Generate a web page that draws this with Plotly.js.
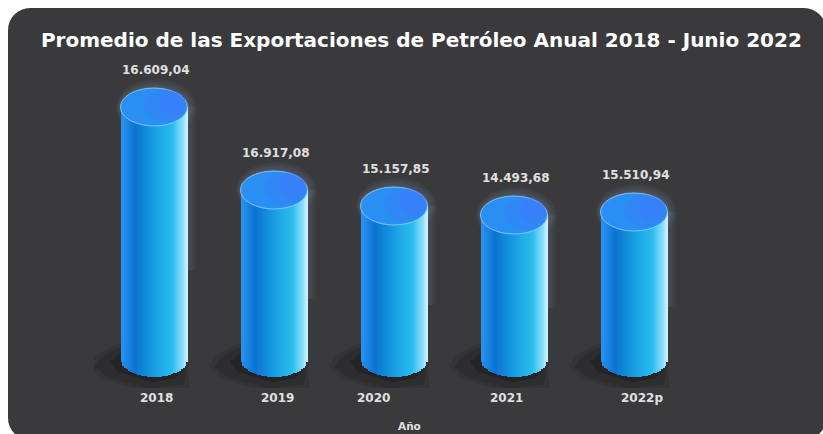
<!DOCTYPE html>
<html>
<head>
<meta charset="utf-8">
<script src="https://cdn.plot.ly/plotly-3.0.1.min.js"></script>
<style>
  html, body { margin: 0; padding: 0; background: #ffffff; }
  #chart { width: 823px; height: 434px; }
</style>
</head>
<body>
<div id="chart"></div>
<script>
// ---- Data ----
const anios = ['2018', '2019', '2020', '2021', '2022p'];
const promedios = [16609.04, 16917.08, 15157.85, 14493.68, 15510.94];   // printed values
const alturasDibujadas = [25100, 16800, 15200, 14300, 14600];           // bar heights as drawn
const tituloTexto = 'Promedio de las Exportaciones de Petróleo Anual 2018 - Junio 2022';
const ejeXTexto = 'Año';

// ---- helpers ----
function formatoES(v) {
  const parts = v.toFixed(2).split('.');
  const ent = parts[0].replace(/\B(?=(\d{3})+(?!\d))/g, '.');
  return ent + ',' + parts[1];
}
function hex2rgb(h) { h = h.replace('#',''); return [parseInt(h.substr(0,2),16), parseInt(h.substr(2,2),16), parseInt(h.substr(4,2),16)]; }
const stops = [[0, '#2b96f2'], [0.22, '#0a72d0'], [0.52, '#18a0e4'], [0.78, '#2cbdee'], [0.92, '#86dcf9'], [1, '#d4f5ff']];
function gradColor(t) {
  for (let i = 0; i < stops.length - 1; i++) {
    if (t >= stops[i][0] && t <= stops[i+1][0]) {
      const f = (t - stops[i][0]) / (stops[i+1][0] - stops[i][0]);
      const c0 = hex2rgb(stops[i][1]), c1 = hex2rgb(stops[i+1][1]);
      const c = c0.map((v, j) => Math.round(v + (c1[j] - v) * f));
      return 'rgb(' + c.join(',') + ')';
    }
  }
  return stops[stops.length-1][1];
}

// ---- geometry (layout) ----
const W = 823, H = 434;
const M = {l: 94, r: 129, t: 58, b: 46};
const plotW = W - M.l - M.r, plotH = H - M.t - M.b;
const xRange = [-0.5, 4.5], yRange = [-3000, 30000];
const uxPerPx = (xRange[1] - xRange[0]) / plotW;
const uyPerPx = (yRange[1] - yRange[0]) / plotH;
const semiA = 33.5 * uxPerPx;     // half width of cylinder
const semiB = 19 * uyPerPx;       // half height of ellipse
const N = 36;
const sw = 2 * semiA / N;
const xs = anios.map((_, i) => i);

const traces = [];
for (let k = 0; k < N; k++) {
  const dx = -semiA + (k + 0.5) * sw;
  const r = Math.min(1, Math.abs(dx) / semiA);
  const baseK = -semiB * Math.sqrt(Math.max(0, 1 - r * r));
  traces.push({
    type: 'bar',
    x: xs,
    y: alturasDibujadas.map(h => h - baseK),
    base: alturasDibujadas.map(() => baseK),
    offset: -semiA + k * sw,
    width: k === N - 1 ? sw : sw * 1.4,
    marker: {color: gradColor((k + 0.5) / N), line: {width: 0}},
    hoverinfo: 'skip',
    showlegend: false
  });
}

// ---- shapes ----
function px2paperX(px) { return (px - M.l) / plotW; }
function px2paperY(py) { return (H - M.b - py) / plotH; }
function roundRectPath(x0, y0, x1, y1, rad) {
  const pts = [];
  const arc = (cx, cy, a0, a1) => { for (let s = 0; s <= 8; s++) { const a = a0 + (a1 - a0) * s / 8; pts.push([cx + rad * Math.cos(a), cy + rad * Math.sin(a)]); } };
  arc(x0 + rad, y0 + rad, Math.PI, 1.5 * Math.PI);
  arc(x1 - rad, y0 + rad, 1.5 * Math.PI, 2 * Math.PI);
  arc(x1 - rad, y1 - rad, 0, 0.5 * Math.PI);
  arc(x0 + rad, y1 - rad, 0.5 * Math.PI, Math.PI);
  return 'M' + pts.map(p => px2paperX(p[0]).toFixed(5) + ',' + px2paperY(p[1]).toFixed(5)).join('L') + 'Z';
}
const shapes = [{
  type: 'path', xref: 'paper', yref: 'paper', layer: 'below',
  path: roundRectPath(8, 8, 826, 440, 22),
  fillcolor: '#3a3a3c', line: {width: 0}
}];
function pathAt(i, pp) {
  return 'M' + pp.map(p => (i + p[0] * uxPerPx).toFixed(5) + ',' + (-p[1] * uyPerPx).toFixed(2)).join('L') + 'Z';
}
// soft shadows toward lower-left (offsets in px around each base centre)
const shadowLayers = [
  [[[-33, -16], [-56, -4], [-66, 8], [-50, 22], [-5, 35], [36, 31], [33, 4]], 'rgba(25,25,27,0.18)'],
  [[[-33, -12], [-52, -1], [-60, 9], [-45, 20], [-3, 31], [30, 26], [33, 3]], 'rgba(22,22,24,0.22)'],
  [[[-33, -6], [-44, 4], [-36, 14], [-2, 24], [22, 20], [33, 2]], 'rgba(18,18,20,0.3)']
];
xs.forEach(i => {
  shadowLayers.forEach(([pp, col]) => {
    shapes.push({type: 'path', xref: 'x', yref: 'y', layer: 'below', path: pathAt(i, pp), fillcolor: col, line: {width: 0}});
  });
  // faint glow behind top and right side
  const h = alturasDibujadas[i];
  for (let s = 1; s <= 4; s++) {
    const g = 2.2 * s;
    shapes.push({
      type: 'circle', xref: 'x', yref: 'y', layer: 'below',
      x0: i - semiA - g * 0.5 * uxPerPx, x1: i + semiA + g * uxPerPx,
      y0: h - semiB - g * uyPerPx, y1: h + semiB + g * uyPerPx,
      fillcolor: 'rgba(150,190,230,0.05)', line: {width: 0}
    });
    shapes.push({
      type: 'rect', xref: 'x', yref: 'y', layer: 'below',
      x0: i + semiA - 2 * uxPerPx, x1: i + semiA + g * uxPerPx,
      y0: h * 0.35, y1: h,
      fillcolor: 'rgba(150,190,230,0.04)', line: {width: 0}
    });
  }
});
// top ellipses
xs.forEach(i => {
  const h = alturasDibujadas[i];
  shapes.push({
    type: 'circle', xref: 'x', yref: 'y', layer: 'above',
    x0: i - semiA, x1: i + semiA, y0: h - semiB, y1: h + semiB,
    fillcolor: '#2a8ff3', line: {color: 'rgba(150,205,255,0.85)', width: 1}
  });
  shapes.push({
    type: 'circle', xref: 'x', yref: 'y', layer: 'above',
    x0: i - semiA * 0.3, x1: i + semiA * 0.97, y0: h - semiB * 0.75, y1: h + semiB * 0.93,
    fillcolor: 'rgba(70,115,255,0.28)', line: {width: 0}
  });
  shapes.push({
    type: 'circle', xref: 'x', yref: 'y', layer: 'above',
    x0: i + semiA * 0.15, x1: i + semiA * 0.95, y0: h - semiB * 0.45, y1: h + semiB * 0.85,
    fillcolor: 'rgba(70,110,255,0.28)', line: {width: 0}
  });
});

// ---- annotations ----
const FAM = 'DejaVu Sans, Verdana, sans-serif';
const labelFont = {family: FAM, size: 12, color: '#e0e0e0'};
const tickShift = [2, 3, -21, -8, 8];
const annotations = [];
xs.forEach(i => {
  annotations.push({
    x: i, y: alturasDibujadas[i], xref: 'x', yref: 'y',
    text: '<b>' + formatoES(promedios[i]) + '</b>', showarrow: false,
    yanchor: 'middle', yshift: 37, xshift: 2, font: labelFont
  });
  annotations.push({
    x: i, y: 0, xref: 'x', yref: 'y',
    text: '<b>' + anios[i] + '</b>', showarrow: false,
    yanchor: 'middle', yshift: -40, xshift: tickShift[i], font: labelFont
  });
});
annotations.push({
  x: px2paperX(409), y: px2paperY(426), xref: 'paper', yref: 'paper',
  text: '<b>' + ejeXTexto + '</b>', showarrow: false, yanchor: 'middle',
  font: {family: FAM, size: 10.5, color: '#e0e0e0'}
});

const layout = {
  width: W, height: H,
  margin: M,
  paper_bgcolor: '#ffffff',
  plot_bgcolor: 'rgba(0,0,0,0)',
  barmode: 'overlay',
  bargap: 0,
  title: {
    text: '<b>' + tituloTexto + '</b>',
    x: 0.512, xanchor: 'center', y: 1 - 40 / H, yanchor: 'middle',
    font: {family: FAM, size: 20, color: '#ffffff'}
  },
  xaxis: {range: xRange, visible: false, fixedrange: true},
  yaxis: {range: yRange, visible: false, fixedrange: true},
  shapes: shapes,
  annotations: annotations,
  showlegend: false
};

Plotly.newPlot('chart', traces, layout, {displayModeBar: false, staticPlot: true});
</script>
</body>
</html>
